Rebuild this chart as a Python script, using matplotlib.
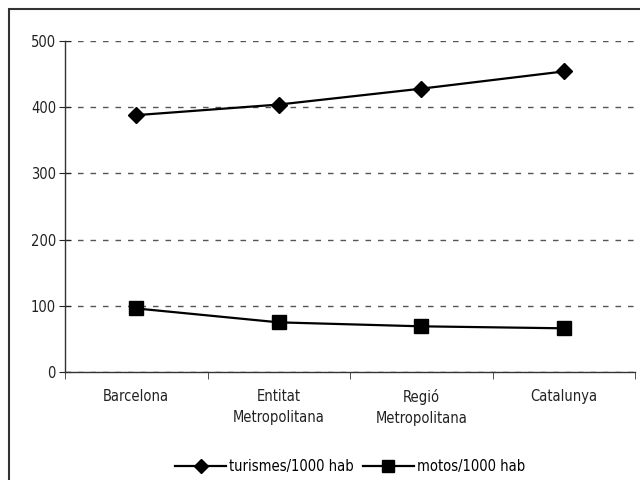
import matplotlib
matplotlib.use('Agg')
import matplotlib.pyplot as plt
from matplotlib.patches import Rectangle
from matplotlib import font_manager

# Data
categories = ['Barcelona', 'Entitat\nMetropolitana', 'Regió\nMetropolitana', 'Catalunya']
turismes = [388, 404, 428, 454]
motos = [96, 75, 69, 66]
yticks = [0, 100, 200, 300, 400, 500]

# Narrow sans font if available, else condensed DejaVu
names = {f.name for f in font_manager.fontManager.ttflist}
condensed = [f for f in font_manager.fontManager.ttflist
             if f.name == 'DejaVu Sans' and f.stretch == 'condensed']
if 'Liberation Sans Narrow' in names:
    plt.rcParams['font.family'] = ['Liberation Sans Narrow', 'DejaVu Sans']
else:
    plt.rcParams['font.family'] = ['DejaVu Sans']
    if condensed:
        plt.rcParams['font.stretch'] = 'condensed'
plt.rcParams['font.size'] = 10.5 if condensed or 'Liberation Sans Narrow' in names else 9.5

fig = plt.figure(figsize=(6.4, 4.8), dpi=100)
ax = fig.add_axes([65 / 640, 1 - 372 / 480, 570 / 640, 331 / 480])

x = list(range(len(categories)))
ax.plot(x, turismes, color='black', lw=1.6, marker='D', ms=8.5,
        label='turismes/1000 hab', clip_on=False)
ax.plot(x, motos, color='black', lw=1.6, marker='s', ms=10,
        label='motos/1000 hab', clip_on=False)

ax.set_xlim(-0.5, len(categories) - 0.5)
ax.set_ylim(0, 500)
ax.set_yticks(yticks)
ax.set_xticks(x)
ax.set_xticklabels(categories, linespacing=1.5)
ax.set_xticks([i - 0.5 for i in range(len(categories) + 1)], minor=True)
ax.tick_params(axis='x', which='major', length=0, pad=12, colors='#222222')
ax.tick_params(axis='x', which='minor', length=5, direction='out', color='#333333')
ax.tick_params(axis='y', length=9, direction='inout', pad=2, colors='#222222')

# dashed grid
ax.yaxis.grid(True, linestyle=(0, (4, 5)), color='#555555', lw=1)
ax.set_axisbelow(True)
for s in ['top', 'right']:
    ax.spines[s].set_visible(False)
for s in ['left', 'bottom']:
    ax.spines[s].set_color('#333333')
    ax.spines[s].set_linewidth(1)

# legend centred under the plot area
fig.legend(*ax.get_legend_handles_labels(), loc='center',
           bbox_to_anchor=(350 / 640, 1 - 467 / 480),
           ncol=2, frameon=False, handlelength=3.5, handletextpad=0.2,
           columnspacing=0.6, borderaxespad=0, markerscale=0.8)

# outer frame (only top and left visible in the reference)
fig.patches.append(Rectangle((9 / 640, -0.1), 1.2, 1.1 - 9 / 480, transform=fig.transFigure,
                             fill=False, edgecolor='#333333', lw=1.5))

fig.savefig('out.png', dpi=100)
